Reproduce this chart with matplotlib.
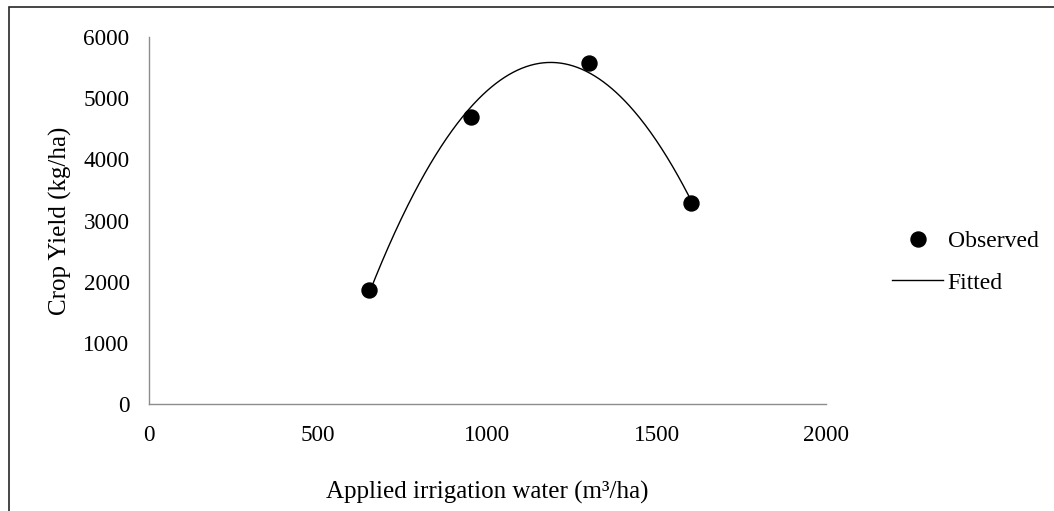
import numpy as np
import matplotlib
matplotlib.use("Agg")
import matplotlib.pyplot as plt
from matplotlib.patches import Rectangle

# observed points
water = [650, 950, 1300, 1600]          # m3/ha
yield_obs = [1865, 4690, 5575, 3285]    # kg/ha

x_ticks = [0, 500, 1000, 1500, 2000]
y_ticks = [0, 1000, 2000, 3000, 4000, 5000, 6000]

plt.rcParams['font.family'] = ['Liberation Serif', 'DejaVu Serif']

fig = plt.figure(figsize=(10.54, 5.11), dpi=100)
ax = fig.add_axes([149/1054, 1 - 404/511, (826-149)/1054, (404-37)/511])

# fitted quadratic from the observed points
coef = np.polyfit(water, yield_obs, 2)
xf = np.linspace(min(water), max(water), 300)
ax.plot(xf, np.polyval(coef, xf), color='black', lw=1.0, label='Fitted', zorder=2)
ax.plot(water, yield_obs, 'o', color='black', ms=10.8, label='Observed', zorder=3)

ax.set_xlim(0, 2000)
ax.set_ylim(0, 6000)
ax.set_xticks(x_ticks)
ax.set_yticks(y_ticks)
ax.tick_params(length=0, labelsize=16.7)
ax.tick_params(axis='x', pad=15)
ax.tick_params(axis='y', pad=14)
for s in ['top', 'right']:
    ax.spines[s].set_visible(False)
for s in ['left', 'bottom']:
    ax.spines[s].set_color('#8c8c8c')
    ax.spines[s].set_linewidth(1.0)

ax.set_xlabel('Applied irrigation water (m³/ha)', fontsize=18, va='center')
ax.set_ylabel('Crop Yield (kg/ha)', fontsize=18, va='center')
ax.xaxis.set_label_coords(0.5, -(492-404)/367)
ax.yaxis.set_label_coords(-(149-60)/677, 0.5)

h, l = ax.get_legend_handles_labels()
fig.legend(h[::-1], l[::-1], loc='center left', bbox_to_anchor=(892/1054, 1 - 262/511),
           frameon=False, fontsize=17, handlelength=2.16, handletextpad=0.2,
           labelspacing=0.86, borderaxespad=0, borderpad=0)

# outer chart frame
fig.patches.append(Rectangle((8.5/1054, -0.1), 1.2, 1.1 - 7/511, transform=fig.transFigure,
                             fill=False, edgecolor='#262626', lw=1.2))

fig.savefig('out.png', dpi=100)
